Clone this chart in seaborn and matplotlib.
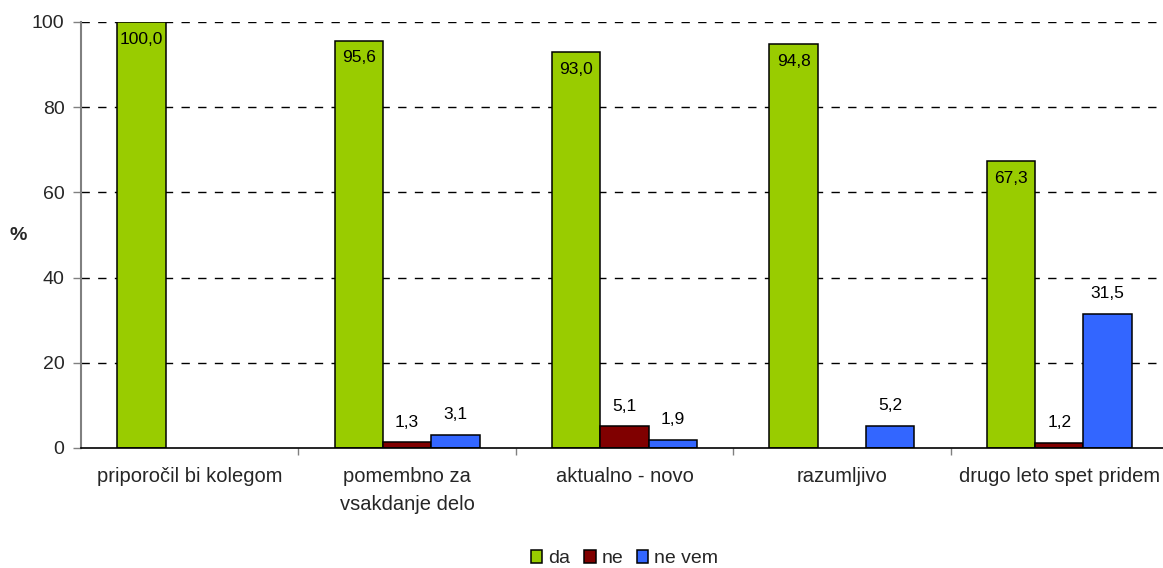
import matplotlib
matplotlib.use("Agg")
import matplotlib.pyplot as plt
import numpy as np
import pandas as pd
import seaborn as sns

# podatki
kategorije = ["priporočil bi kolegom", "pomembno za\nvsakdanje delo", "aktualno - novo",
              "razumljivo", "drugo leto spet pridem"]
da = [100.0, 95.6, 93.0, 94.8, 67.3]
ne = [np.nan, 1.3, 5.1, np.nan, 1.2]
ne_vem = [np.nan, 3.1, 1.9, 5.2, 31.5]
serije = ["da", "ne", "ne vem"]
barve = ["#99CC00", "#800000", "#3366FF"]

df = pd.DataFrame({
    "kategorija": kategorije * 3,
    "odgovor": ["da"] * 5 + ["ne"] * 5 + ["ne vem"] * 5,
    "vrednost": da + ne + ne_vem,
})
df = df.dropna()

sns.set_theme(style="white")
plt.rcParams["font.family"] = ["Liberation Sans", "DejaVu Sans"]
plt.rcParams["font.size"] = 12

fig = plt.figure(figsize=(11.63, 5.68), dpi=100)
ax = fig.add_axes([0.0697, 0.2113, 0.9345, 0.75])

sns.barplot(data=df, x="kategorija", y="vrednost", hue="odgovor",
            order=kategorije, hue_order=serije, palette=barve,
            width=0.667, gap=0, edgecolor="black", linewidth=1.1,
            saturation=1, errorbar=None, ax=ax, legend=True)

# oznake vrednosti
for i, cont in enumerate(ax.containers):
    for bar in cont:
        h = bar.get_height()
        if np.isnan(h):
            continue
        txt = f"{h:.1f}".replace(".", ",")
        x = bar.get_x() + bar.get_width() / 2
        if i == 0:
            ax.annotate(txt, (x, h), xytext=(0, -7), textcoords="offset points",
                        ha="center", va="top", fontsize=12.5, color="black")
        else:
            ax.annotate(txt, (x, h), xytext=(0, 9), textcoords="offset points",
                        ha="center", va="bottom", fontsize=12.5, color="black")

ax.set_ylim(0, 100)
ax.set_xlim(-0.5, 4.5)
ax.set_yticks([0, 20, 40, 60, 80, 100])
ax.set_yticklabels(["0", "20", "40", "60", "80", "100"], fontsize=14)
for yv in [20, 40, 60, 80, 100]:
    ax.axhline(yv, color="black", lw=1, ls=(0, (6, 6)), zorder=0)

ax.set_xticks(range(5))
ax.set_xticklabels(kategorije, fontsize=14.5, linespacing=1.55)
ax.set_xticks([0.5, 1.5, 2.5, 3.5], minor=True)
ax.tick_params(axis="x", which="major", length=0, pad=14)
ax.tick_params(axis="x", which="minor", length=5, color="#808080", width=1, bottom=True)
ax.tick_params(axis="y", length=6, color="#808080", width=1, left=True, pad=6)

ax.set_xlabel("")
ax.set_ylabel("")
fig.text(0.016, 0.585, "%", fontsize=14, fontweight="bold", ha="center", va="center")

for s in ["top", "right"]:
    ax.spines[s].set_visible(False)
ax.spines["left"].set_color("#808080")
ax.spines["left"].set_linewidth(1.5)
ax.spines["bottom"].set_color("black")
ax.spines["bottom"].set_linewidth(1.2)

handles, labels = ax.get_legend_handles_labels()
ax.legend_.remove()
fig.legend(handles, labels, loc="center", bbox_to_anchor=(0.537, 0.016), ncol=3,
           frameon=False, fontsize=14, handlelength=0.6, handleheight=0.6,
           handletextpad=0.3, columnspacing=0.7)

fig.savefig("out.png", dpi=100)
